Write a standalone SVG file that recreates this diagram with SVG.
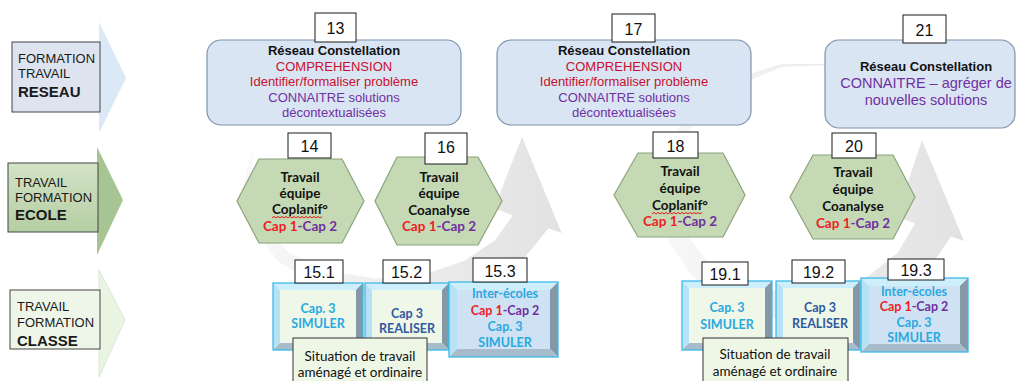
<svg xmlns="http://www.w3.org/2000/svg" width="1022" height="381" viewBox="0 0 1022 381">
<defs>
<style>
.lab{font-family:"Liberation Sans",Arial,sans-serif;font-size:13px;fill:#1a1a1a;}
.labb{font-weight:bold;font-size:15px;}
.num rect{fill:#fff;stroke:#1a1a1a;stroke-width:1;}
.num text{font-family:"Liberation Sans",Arial,sans-serif;font-size:16px;fill:#111;text-anchor:middle;}
.rc rect{fill:#dae5f4;stroke:#7f93ad;stroke-width:1.2;}
.rc text{font-family:"Liberation Sans",Arial,sans-serif;font-size:13px;text-anchor:middle;}
.rc .big{font-size:14.5px;}
.b{font-weight:bold;fill:#111;}
.red{fill:#c8102e;}
.pur{fill:#7030a0;}
.hx polygon{fill:#c6d9b5;stroke:#8ba37b;stroke-width:1.2;}
.cal{font-family:Lato,"Open Sans",sans-serif;font-weight:bold;font-size:13.5px;text-anchor:middle;fill:#111;}
.cal2{font-family:Lato,"Open Sans",sans-serif;font-weight:bold;font-size:12.5px;text-anchor:middle;}
.r2{fill:#ee1c25;}
.p2{fill:#7030a0;}
.cy{fill:#2aa8e0;}
.db{fill:#2f5aa0;}
.bt{fill:#cdeefb;}
.bl{fill:#b7e2f5;}
.br{fill:#8498a8;}
.bb{fill:#a6bccb;}
.fg{fill:#eff7e8;}
.fb{fill:#cfe2f3;}
.ol{fill:none;stroke:#3dbbe9;stroke-width:1.3;}
.sit rect{fill:#eef6e6;stroke:#333;stroke-width:1;}
.sit text{font-family:Lato,"Open Sans",sans-serif;font-size:13.5px;fill:#111;text-anchor:middle;}
.sq{fill:none;stroke:#e0201b;stroke-width:1;}
</style>
<linearGradient id="gArc" x1="0" y1="0" x2="1" y2="0">
<stop offset="0" stop-color="#f8f8f8"/><stop offset="1" stop-color="#e2e2e2"/>
</linearGradient>
<linearGradient id="gEcole" x1="0" y1="0" x2="0" y2="1">
<stop offset="0" stop-color="#d3e3c6"/><stop offset="1" stop-color="#b6cea3"/>
</linearGradient>
</defs>
<rect width="1022" height="381" fill="#ffffff"/>

<g id="connectors">
<path fill="url(#gArc)" d="M251.5,151.7 L242,190 L251.5,228.3 L279,262 L321,287 L372.5,300.3 L427.5,300.3 L479,287 L521,262 L548.5,228.3 L561.7,233.1 L522,137 L494,208.5 L512.8,215.3 L495,240.2 L464,261 L423,274.7 L376.3,278.7 L330,271.4 L289.7,253 L260.9,224.9 L248,190 L253.4,152.4 Z"/>
<path fill="url(#gArc)" d="M834.4,63.9 L781.6,63.9 L732,79.4 L691.6,108.4 L665.1,147.5 L656,192 L665.1,236.5 L691.6,275.6 L732,304.6 L781.6,320.1 L834.4,320.1 L884,304.6 L924.4,275.6 L950.9,236.5 L964,241 L922,140 L896.4,216.6 L915.2,223.5 L897.5,253 L867.8,276.4 L829.3,290.8 L786.2,293.6 L744.1,283.6 L708,261.8 L682.6,230.1 L671.9,192 L677.4,152 L699.5,115 L735.7,85.9 L782.4,66.7 L834.1,64.9 Z"/>
</g>

<g id="row-reseau">
<polygon points="99,22 126,78 99,133" fill="#dbe8f6"/>
<rect x="12" y="42" width="88" height="70" fill="#dee3f0" stroke="#444" stroke-width="1"/>
<text class="lab" x="18" y="63">FORMATION</text>
<text class="lab" x="18" y="78">TRAVAIL</text>
<text class="lab labb" x="18" y="97">RESEAU</text>
</g>
<g id="row-ecole">
<polygon points="97,147 123,200 97,255" fill="#a6c592"/>
<rect x="8" y="163" width="90" height="69" fill="url(#gEcole)" stroke="#444" stroke-width="1"/>
<text class="lab" x="15" y="187">TRAVAIL</text>
<text class="lab" x="15" y="202">FORMATION</text>
<text class="lab labb" x="15" y="220">ECOLE</text>
</g>
<g id="row-classe">
<polygon points="99,270 125,320 99,377" fill="#eaf4e2" stroke="#dbe8d2" stroke-width="1"/>
<rect x="10" y="290" width="90" height="59" fill="#eef6e9" stroke="#444" stroke-width="1"/>
<text class="lab" x="17" y="311">TRAVAIL</text>
<text class="lab" x="17" y="327">FORMATION</text>
<text class="lab labb" x="17" y="346">CLASSE</text>
</g>

<g id="n13" class="rc">
<rect x="207" y="40" width="254" height="85" rx="14"/>
<text x="334" y="55" class="b">Réseau Constellation</text>
<text x="334" y="70.5" class="red">COMPREHENSION</text>
<text x="334" y="86" class="red">Identifier/formaliser problème</text>
<text x="334" y="101.5" class="pur">CONNAITRE solutions</text>
<text x="334" y="117" class="pur">décontextualisées</text>
</g>
<g id="n17" class="rc">
<rect x="497" y="40" width="254" height="85" rx="14"/>
<text x="624" y="55" class="b">Réseau Constellation</text>
<text x="624" y="70.5" class="red">COMPREHENSION</text>
<text x="624" y="86" class="red">Identifier/formaliser problème</text>
<text x="624" y="101.5" class="pur">CONNAITRE solutions</text>
<text x="624" y="117" class="pur">décontextualisées</text>
</g>
<g id="n21" class="rc">
<rect x="825" y="40" width="190" height="88" rx="14"/>
<text x="926" y="71" class="b">Réseau Constellation</text>
<text x="926" y="88" class="pur big">CONNAITRE – agréger de</text>
<text x="926" y="105" class="pur big">nouvelles solutions</text>
</g>

<g id="n14" class="hx">
<polygon points="237,201 259,159 342,159 364,201 342,243 259,243"/>
<text class="cal" x="300" y="182">Travail</text>
<text class="cal" x="300" y="198">équipe</text>
<text class="cal" x="300" y="214">Coplanif°</text>
<path class="sq" d="M272,218 l2,-1.6 2,1.6 2,-1.6 2,1.6 2,-1.6 2,1.6 2,-1.6 2,1.6 2,-1.6 2,1.6 2,-1.6 2,1.6 2,-1.6 2,1.6 2,-1.6 2,1.6 2,-1.6 2,1.6 2,-1.6 2,1.6 2,-1.6 2,1.6 2,-1.6 2,1.6 2,-1.6"/>
<text class="cal" x="300" y="231"><tspan class="r2">Cap 1</tspan><tspan class="p2">-Cap 2</tspan></text>
</g>
<g id="n16" class="hx">
<polygon points="375,201 397,157 478,157 502,201 478,245 397,245"/>
<text class="cal" x="439" y="182">Travail</text>
<text class="cal" x="439" y="198">équipe</text>
<text class="cal" x="439" y="215">Coanalyse</text>
<text class="cal" x="439" y="231"><tspan class="r2">Cap 1</tspan><tspan class="p2">-Cap 2</tspan></text>
</g>
<g id="n18" class="hx">
<polygon points="614,195 638,153 723,153 745,195 723,237 638,237"/>
<text class="cal" x="680" y="176">Travail</text>
<text class="cal" x="680" y="193">équipe</text>
<text class="cal" x="680" y="210">Coplanif°</text>
<path class="sq" d="M652,214 l2,-1.6 2,1.6 2,-1.6 2,1.6 2,-1.6 2,1.6 2,-1.6 2,1.6 2,-1.6 2,1.6 2,-1.6 2,1.6 2,-1.6 2,1.6 2,-1.6 2,1.6 2,-1.6 2,1.6 2,-1.6 2,1.6 2,-1.6 2,1.6 2,-1.6 2,1.6 2,-1.6"/>
<text class="cal" x="680" y="226"><tspan class="r2">Cap 1</tspan><tspan class="p2">-Cap 2</tspan></text>
</g>
<g id="n20" class="hx">
<polygon points="790,197 813,155 893,155 915,197 893,239 813,239"/>
<text class="cal" x="853" y="177">Travail</text>
<text class="cal" x="853" y="194">équipe</text>
<text class="cal" x="853" y="211">Coanalyse</text>
<text class="cal" x="853" y="228"><tspan class="r2">Cap 1</tspan><tspan class="p2">-Cap 2</tspan></text>
</g>

<g id="n15-1">
<polygon class="bt" points="273,283 363,283 356,290 280,290"/>
<polygon class="bl" points="273,283 280,290 280,343 273,350"/>
<polygon class="br" points="363,283 363,350 356,343 356,290"/>
<polygon class="bb" points="273,350 363,350 356,343 280,343"/>
<rect class="fg" x="280" y="290" width="76" height="53"/>
<rect class="ol" x="273" y="283" width="90" height="67"/>
<text class="cal2 cy" x="318" y="313">Cap. 3</text>
<text class="cal2 cy" x="318" y="328">SIMULER</text>
</g>
<g id="n15-2">
<polygon class="bt" points="365,283 449,283 442,290 372,290"/>
<polygon class="bl" points="365,283 372,290 372,343 365,350"/>
<polygon class="br" points="449,283 449,350 442,343 442,290"/>
<polygon class="bb" points="365,350 449,350 442,343 372,343"/>
<rect class="fg" x="372" y="290" width="70" height="53"/>
<rect class="ol" x="365" y="283" width="84" height="67"/>
<text class="cal2 db" x="407" y="318">Cap 3</text>
<text class="cal2 db" x="407" y="333">REALISER</text>
</g>
<g id="n15-3">
<polygon class="bt" points="449,282 558,282 550,290 457,290"/>
<polygon class="bl" points="449,282 457,290 457,349 449,357"/>
<polygon class="br" points="558,282 558,357 550,349 550,290"/>
<polygon class="bb" points="449,357 558,357 550,349 457,349"/>
<rect class="fb" x="457" y="290" width="93" height="59"/>
<rect class="ol" x="449" y="282" width="109" height="75"/>
<text class="cal2 cy" x="505" y="298">Inter-écoles</text>
<text class="cal2" x="505" y="315"><tspan class="r2">Cap 1</tspan><tspan class="p2">-Cap 2</tspan></text>
<text class="cal2 cy" x="505" y="331">Cap. 3</text>
<text class="cal2 cy" x="505" y="347">SIMULER</text>
</g>
<g id="n19-1">
<polygon class="bt" points="682,281 772,281 765,288 689,288"/>
<polygon class="bl" points="682,281 689,288 689,343 682,350"/>
<polygon class="br" points="772,281 772,350 765,343 765,288"/>
<polygon class="bb" points="682,350 772,350 765,343 689,343"/>
<rect class="fg" x="689" y="288" width="76" height="55"/>
<rect class="ol" x="682" y="281" width="90" height="69"/>
<text class="cal2 cy" x="727" y="312">Cap. 3</text>
<text class="cal2 cy" x="727" y="329">SIMULER</text>
</g>
<g id="n19-2">
<polygon class="bt" points="776,281 860,281 853,288 783,288"/>
<polygon class="bl" points="776,281 783,288 783,343 776,350"/>
<polygon class="br" points="860,281 860,350 853,343 853,288"/>
<polygon class="bb" points="776,350 860,350 853,343 783,343"/>
<rect class="fg" x="783" y="288" width="70" height="55"/>
<rect class="ol" x="776" y="281" width="84" height="69"/>
<text class="cal2 db" x="820" y="312">Cap 3</text>
<text class="cal2 db" x="820" y="328">REALISER</text>
</g>
<g id="n19-3">
<polygon class="bt" points="861,278 968,278 960,286 869,286"/>
<polygon class="bl" points="861,278 869,286 869,344 861,352"/>
<polygon class="br" points="968,278 968,352 960,344 960,286"/>
<polygon class="bb" points="861,352 968,352 960,344 869,344"/>
<rect class="fb" x="869" y="286" width="91" height="58"/>
<rect class="ol" x="861" y="278" width="107" height="74"/>
<text class="cal2 cy" x="914" y="296">Inter-écoles</text>
<text class="cal2" x="914" y="311"><tspan class="r2">Cap 1</tspan><tspan class="p2">-Cap 2</tspan></text>
<text class="cal2 cy" x="914" y="327">Cap. 3</text>
<text class="cal2 cy" x="914" y="342">SIMULER</text>
</g>

<g id="labels" class="num">
<rect x="315" y="13" width="41" height="29"/><text x="335.5" y="34">13</text>
<rect x="612" y="14" width="43" height="28"/><text x="633.5" y="35">17</text>
<rect x="903" y="15" width="43" height="28"/><text x="924.5" y="36">21</text>
<rect x="288" y="133" width="43" height="25"/><text x="309.5" y="152">14</text>
<rect x="425" y="133" width="42" height="31"/><text x="446" y="153">16</text>
<rect x="653" y="132" width="45" height="26"/><text x="675.5" y="152">18</text>
<rect x="832" y="133" width="44" height="25"/><text x="854" y="152">20</text>
<rect x="295" y="260" width="48" height="23"/><text x="319" y="278">15.1</text>
<rect x="383" y="260" width="47" height="23"/><text x="406.5" y="278">15.2</text>
<rect x="473" y="258" width="54" height="24"/><text x="500" y="277">15.3</text>
<rect x="702" y="262" width="46" height="23"/><text x="725" y="280">19.1</text>
<rect x="792" y="260" width="53" height="23"/><text x="818.5" y="278">19.2</text>
<rect x="888" y="259" width="56" height="21"/><text x="916" y="276">19.3</text>
</g>

<g id="sit15" class="sit">
<rect x="293" y="338" width="134" height="50"/>
<text x="360" y="361">Situation de travail</text>
<text x="360" y="377">aménagé et ordinaire</text>
</g>
<g id="sit19" class="sit">
<rect x="703" y="338" width="145" height="50"/>
<text x="775" y="359">Situation de travail</text>
<text x="775" y="376">aménagé et ordinaire</text>
</g>
</svg>
